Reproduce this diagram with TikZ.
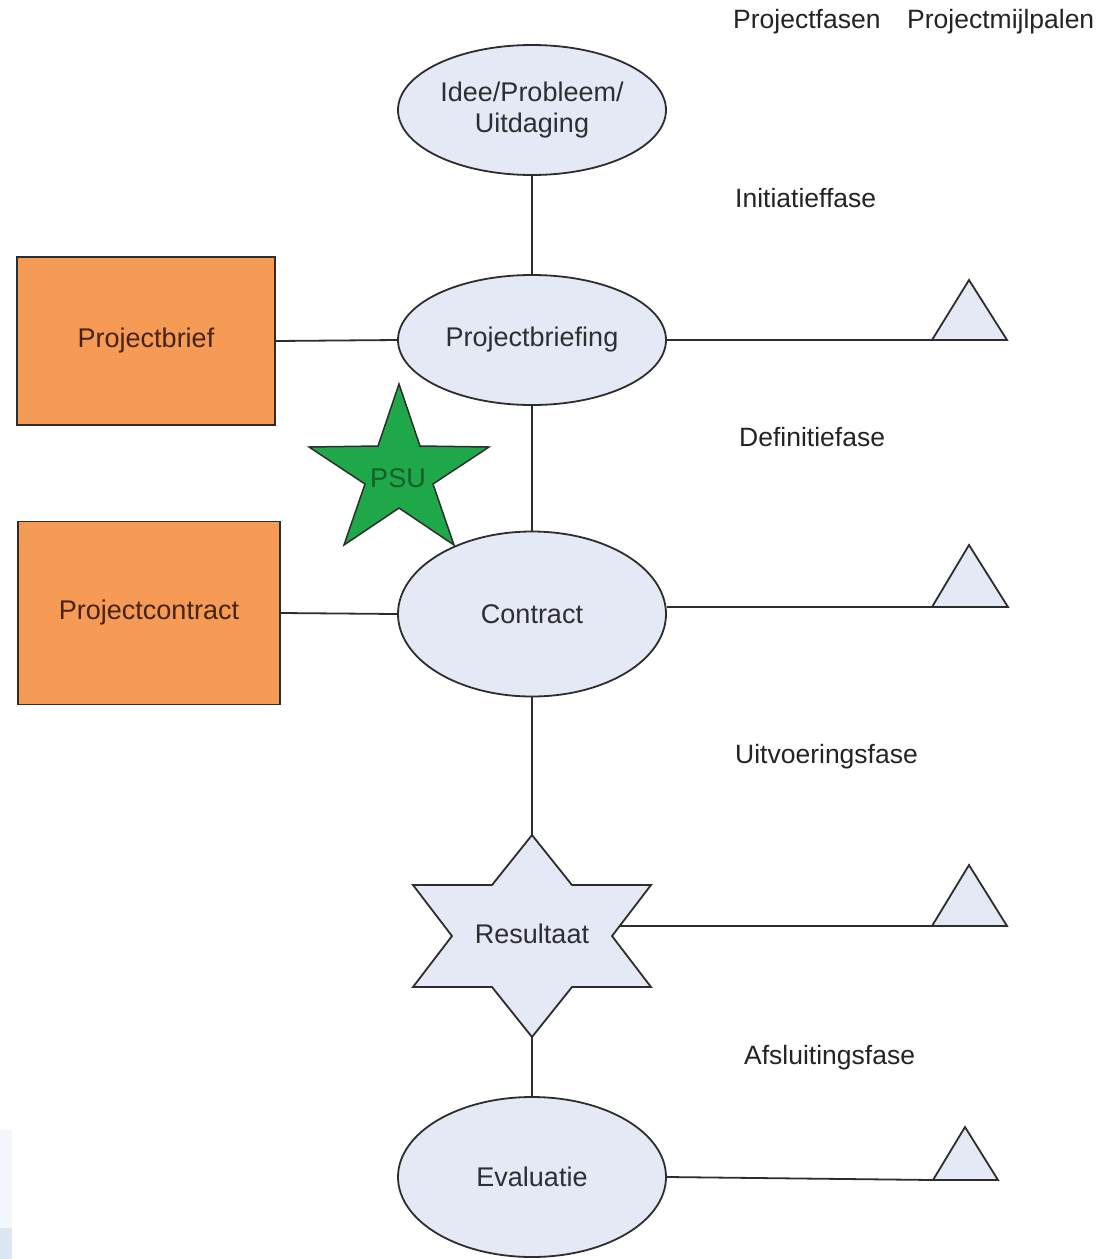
\documentclass[tikz,border=0pt]{standalone}
\usepackage{fontspec}
\setmainfont{Liberation Sans}
\usetikzlibrary{shapes.geometric}
\definecolor{ellfill}{RGB}{228,233,245}
\definecolor{orfill}{RGB}{245,155,85}
\definecolor{grfill}{RGB}{30,168,74}
\definecolor{edgecol}{RGB}{45,45,45}
\definecolor{txtcol}{RGB}{45,45,50}
\definecolor{browntxt}{RGB}{70,35,10}
\definecolor{greentxt}{RGB}{20,95,40}
\definecolor{lblcol}{RGB}{35,35,35}
\definecolor{stripa}{RGB}{243,247,252}
\definecolor{stripb}{RGB}{221,230,241}
\begin{document}
\begin{tikzpicture}[x=1pt,y=-1pt,
  every node/.style={font=\fontsize{27}{31}\selectfont, text=txtcol},
  phase/.style={ellipse, draw=edgecol, fill=ellfill, line width=1.8, inner sep=0,
    minimum width=268, minimum height=130, align=center},
  docbox/.style={rectangle, draw=edgecol, fill=orfill, line width=1.8, inner sep=0, text=browntxt},
  conn/.style={draw=edgecol, line width=1.8},
  shapeline/.style={draw=edgecol, line width=1.8, line join=miter},
  phaselbl/.style={anchor=west, inner sep=0, text=lblcol, font=\fontsize{26.5}{31}\selectfont}]
\useasboundingbox (0,0) rectangle (1115,1259);
\fill[stripa] (0,1130) rectangle (12,1228);
\fill[stripb] (0,1228) rectangle (12,1259);

% milestones (triangles)
\draw[shapeline, fill=ellfill] (932,340) coordinate (m1) -- (969,280) -- (1007,340) -- cycle;
\draw[shapeline, fill=ellfill] (932,607) coordinate (m2) -- (969,545) -- (1008,607) -- cycle;
\draw[shapeline, fill=ellfill] (932,926) coordinate (m3) -- (969,865) -- (1007,926) -- cycle;
\draw[shapeline, fill=ellfill] (933,1180) coordinate (m4) -- (965,1127) -- (998,1180) -- cycle;

% phase nodes
\node[phase] (idee) at (532,110) {Idee/Probleem/\\Uitdaging};
\node[phase] (brief) at (532,340) {Projectbriefing};
\node[phase, minimum height=165] (contr) at (532,614) {Contract};
\node[phase, minimum height=160] (eval) at (532,1177) {Evaluatie};

% result star
\draw[shapeline, fill=ellfill] (532,835) -- (572,885) -- (651,885) -- (612,936) -- (651,987)
  -- (572,987) -- (532,1037) -- (492,987) -- (413,987) -- (452,936) -- (413,885) -- (492,885) -- cycle;
\node (res) at (532,934) {Resultaat};
\coordinate (rtop) at (532,835);
\coordinate (rbot) at (532,1037);
\coordinate (rright) at (620,926);

% documents
\node[docbox, minimum width=258, minimum height=168] (pbrief) at (146,341) {Projectbrief};
\node[docbox, minimum width=262, minimum height=183] (pcontr) at (149,613) {Projectcontract};

% connectors
\draw[conn] (idee.south) -- (brief.north);
\draw[conn] (brief.south) -- (contr.north);
\draw[conn] (contr.south) -- (rtop);
\draw[conn] (rbot) -- (eval.north);
\draw[conn] (pbrief.east) -- (brief.west);
\draw[conn] (pcontr.east) -- (contr.west);
\draw[conn] (brief.east) -- (m1);
\draw[conn] (contr.east |- m2) -- (m2);
\draw[conn] (rright) -- (m3);
\draw[conn] (eval.east) -- (m4);

% PSU star
\draw[draw=edgecol, line width=1.5, fill=grfill, line join=miter]
  (399,384) -- (420,446) -- (489,447) -- (433,484) -- (454,545) -- (399,508)
  -- (344,545) -- (365,484) -- (309,447) -- (378,446) -- cycle;
\node[text=greentxt] (psu) at (398,478) {PSU};

% labels
\node[phaselbl] (lfasen) at (733,22) {Projectfasen};
\node[phaselbl] (lmijl) at (907,22) {Projectmijlpalen};
\node[phaselbl] (linit) at (735,198) {Initiatieffase};
\node[phaselbl] (ldef) at (739,437) {Definitiefase};
\node[phaselbl] (luitv) at (735,757) {Uitvoeringsfase};
\node[phaselbl] (lafsl) at (744,1058) {Afsluitingsfase};
\end{tikzpicture}
\end{document}
